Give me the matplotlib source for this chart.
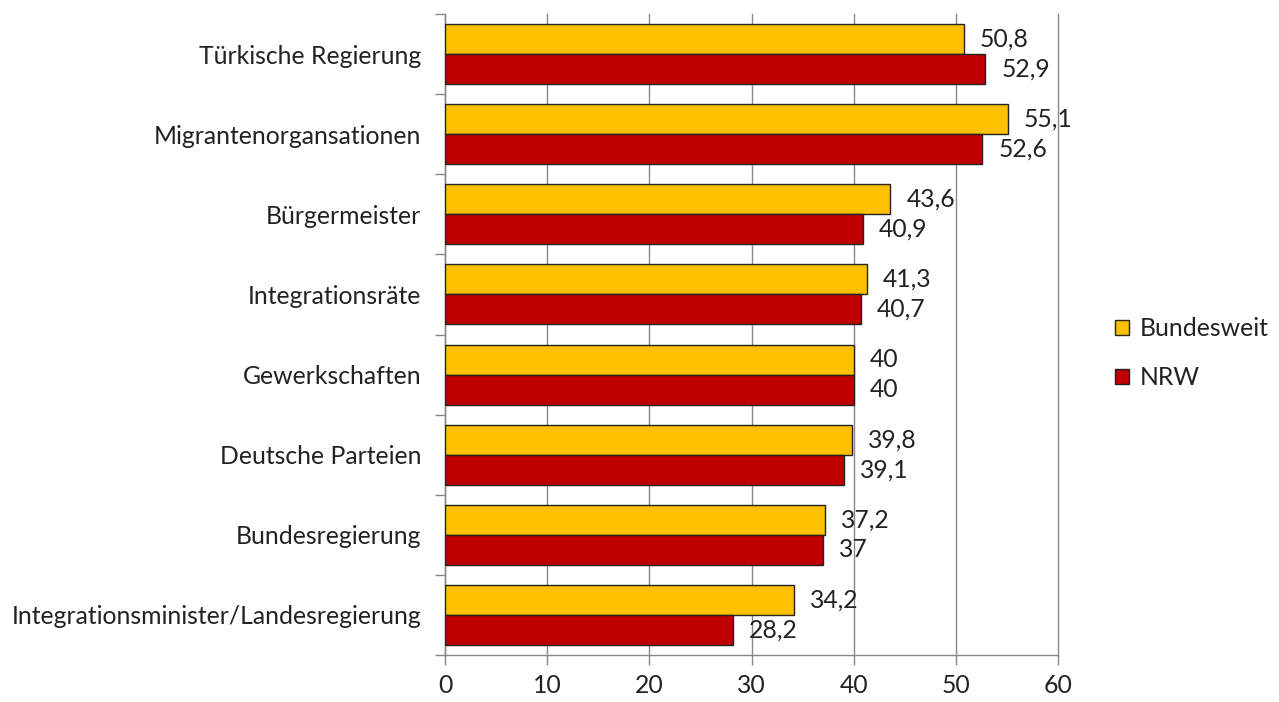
import matplotlib
matplotlib.use("Agg")
import matplotlib.pyplot as plt
import numpy as np
from matplotlib.patches import Patch

categories = ["Türkische Regierung", "Migrantenorgansationen", "Bürgermeister",
              "Integrationsräte", "Gewerkschaften", "Deutsche Parteien",
              "Bundesregierung", "Integrationsminister/Landesregierung"]
bundesweit = [50.8, 55.1, 43.6, 41.3, 40, 39.8, 37.2, 34.2]
nrw = [52.9, 52.6, 40.9, 40.7, 40, 39.1, 37, 28.2]
series_names = ["Bundesweit", "NRW"]
xticks = [0, 10, 20, 30, 40, 50, 60]

plt.rcParams['font.family'] = ['Lato', 'DejaVu Sans']
FS = 17.8

fig = plt.figure(figsize=(12.79, 7.02), dpi=100)
ax = fig.add_axes([445/1279, 47/702, (1058-445)/1279, (655-14)/702])

y = np.arange(len(categories))
h = 0.375
c_y, c_r = "#FFC000", "#C00000"
ax.barh(y - h/2, bundesweit, height=h, color=c_y, edgecolor="#222222", linewidth=1, zorder=3)
ax.barh(y + h/2, nrw, height=h, color=c_r, edgecolor="#222222", linewidth=1, zorder=3)

def fmt(v):
    return ("%g" % v).replace(".", ",")

for i, (a, b) in enumerate(zip(bundesweit, nrw)):
    ax.annotate(fmt(a), (a, i - h/2), xytext=(11.5, 0), textcoords="offset points",
                va="center", ha="left", fontsize=FS, color="#222222")
    ax.annotate(fmt(b), (b, i + h/2), xytext=(11.5, 0), textcoords="offset points",
                va="center", ha="left", fontsize=FS, color="#222222")

ax.set_ylim(len(categories) - 0.5, -0.5)
ax.set_xlim(0, 60)
ax.set_xticks(xticks)
ax.set_xticklabels([str(t) for t in xticks], fontsize=FS, color="#222222")
ax.set_yticks(y)
ax.set_yticklabels(categories, fontsize=FS, color="#222222")
ax.tick_params(axis="y", length=0, pad=17)
ax.set_yticks(np.arange(len(categories) + 1) - 0.5, minor=True)
ax.tick_params(axis="y", which="minor", length=7, color="#888888", width=1)
ax.tick_params(axis="x", length=7, color="#888888", width=1, pad=7)

ax.xaxis.grid(True, color="#888888", linewidth=1, zorder=0)
for gl in ax.get_xgridlines():
    gl.set_clip_on(False)
ax.set_axisbelow(True)
for s in ["top", "right"]:
    ax.spines[s].set_visible(False)
for s in ["left", "bottom"]:
    ax.spines[s].set_color("#888888")
    ax.spines[s].set_linewidth(1)

handles = [Patch(facecolor=c_y, edgecolor="#222222", label=series_names[0]),
           Patch(facecolor=c_r, edgecolor="#222222", label=series_names[1])]
fig.legend(handles=handles, loc="center left", bbox_to_anchor=(1115/1279, 1 - 353/702),
           frameon=False, fontsize=FS, handlelength=0.55, handleheight=0.55,
           handletextpad=0.45, labelspacing=1.05, borderpad=0, borderaxespad=0,
           labelcolor="#222222")

fig.savefig("out.png", dpi=100)
